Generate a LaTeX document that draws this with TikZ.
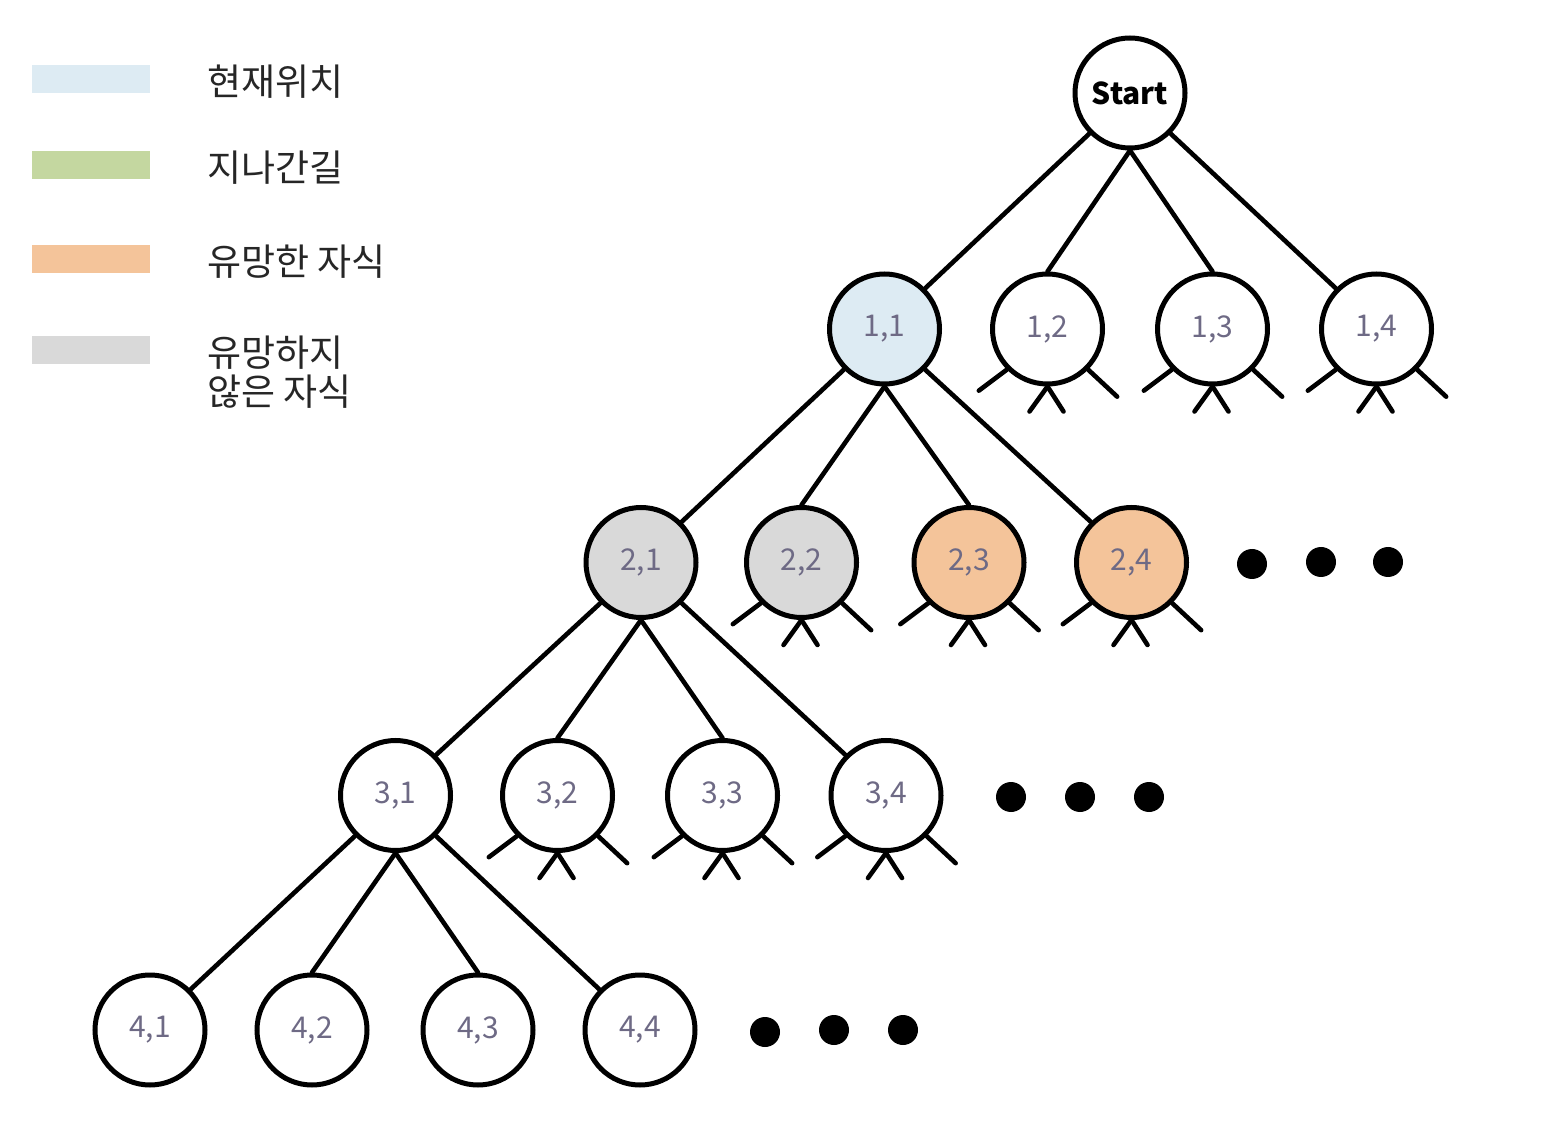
\documentclass[tikz,border=0pt]{standalone}
\usepackage{fontspec}
\setmainfont{Noto Sans CJK KR}
\definecolor{lab}{HTML}{6E6A85}
\definecolor{kblue}{HTML}{DDEBF3}
\definecolor{kgreen}{HTML}{C4D7A0}
\definecolor{korange}{HTML}{F4C49A}
\definecolor{kgray}{HTML}{D9D9D9}
\newcommand\leafstubs[1]{%
  \draw[ed] (#1.-135) -- ++(-28,21);
  \draw[ed] (#1.-45) -- ++(29,27);
  \draw[ed] (#1.south) -- ++(-18,25);
  \draw[ed] (#1.south) -- ++(16,25);}
\begin{document}
\begin{tikzpicture}[x=0.5pt,y=-0.5pt,
  nd/.style={circle,draw=black,line width=2.5pt,minimum size=55pt,inner sep=0pt,
    font=\fontsize{15}{18}\selectfont,text=lab},
  ed/.style={line width=2.3pt,line cap=round},
  bigdot/.style={circle,fill=black,minimum size=15pt,inner sep=0pt},
  keybox/.style={rectangle,minimum width=59pt,minimum height=14pt,inner sep=0pt},
  keytext/.style={anchor=west,inner sep=0pt,font=\fontsize{18.5}{19.5}\selectfont,text=black!85,align=left}]
\useasboundingbox (0,0) rectangle (1542,1122);
% legend
\node[keybox,fill=kblue] (kb) at (91,79) {};
\node[keybox,fill=kgreen] (kg) at (91,165) {};
\node[keybox,fill=korange] (ko) at (91,259.5) {};
\node[keybox,fill=kgray] (ky) at (91,350) {};
\node[keytext] (tb) at (207,82) {현재위치};
\node[keytext] (tg) at (207,168) {지나간길};
\node[keytext] (to) at (207,262) {유망한 자식};
\node[keytext] (ty) at (207,372) {유망하지\\않은 자식};
% nodes
\node[nd,font=\fontsize{15}{18}\selectfont\bfseries,text=black] (s) at (1130,93) {Start};
\node[nd,fill=kblue] (n11) at (884.5,329) {1,1};
\node[nd] (n12) at (1047.5,329) {1,2};
\node[nd] (n13) at (1212.5,329) {1,3};
\node[nd] (n14) at (1376.5,329) {1,4};
\node[nd,fill=kgray] (n21) at (641,562.5) {2,1};
\node[nd,fill=kgray] (n22) at (801.5,562.5) {2,2};
\node[nd,fill=korange] (n23) at (969,562.5) {2,3};
\node[nd,fill=korange] (n24) at (1131.5,562.5) {2,4};
\node[nd] (n31) at (395.5,795.5) {3,1};
\node[nd] (n32) at (557.5,795.5) {3,2};
\node[nd] (n33) at (722.5,795.5) {3,3};
\node[nd] (n34) at (886,795.5) {3,4};
\node[nd] (n41) at (150,1030) {4,1};
\node[nd] (n42) at (312,1030) {4,2};
\node[nd] (n43) at (478,1030) {4,3};
\node[nd] (n44) at (640,1030) {4,4};
% dots
\node[bigdot] (d21) at (1252,564) {};
\node[bigdot] (d22) at (1321,562) {};
\node[bigdot] (d23) at (1388,562) {};
\node[bigdot] (d31) at (1011,797) {};
\node[bigdot] (d32) at (1080,797) {};
\node[bigdot] (d33) at (1149,797) {};
\node[bigdot] (d41) at (765,1032) {};
\node[bigdot] (d42) at (834,1030) {};
\node[bigdot] (d43) at (903,1030) {};
% edges
\foreach \p/\a/\b/\c/\d in {s/n11/n12/n13/n14, n11/n21/n22/n23/n24, n21/n31/n32/n33/n34, n31/n41/n42/n43/n44}{
  \draw[ed] (\p.-135) -- (\a.45);
  \draw[ed] (\p.south) -- (\b.north);
  \draw[ed] (\p.south) -- (\c.north);
  \draw[ed] (\p.-45) -- (\d.135);
}
% stubs
\foreach \n in {n12,n13,n14,n22,n23,n24,n32,n33,n34}{\leafstubs{\n}}
\end{tikzpicture}
\end{document}
